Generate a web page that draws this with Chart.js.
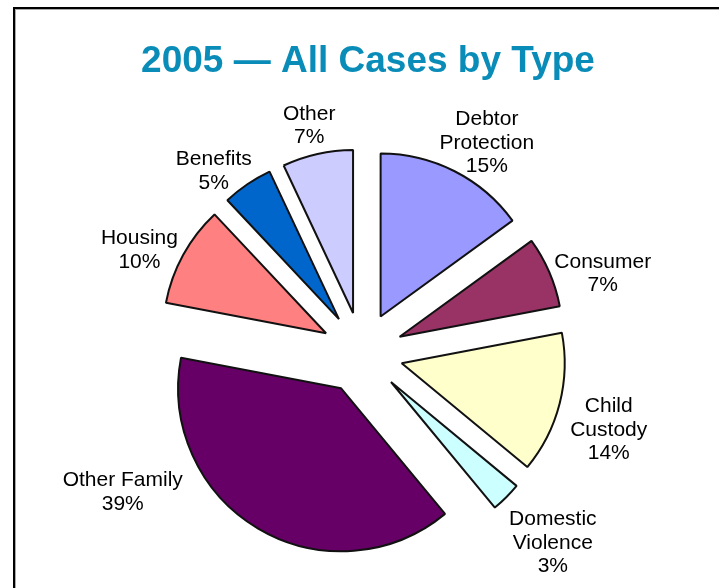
<!DOCTYPE html>
<html>
<head>
<meta charset="utf-8">
<title>2005 — All Cases by Type</title>
<script src="https://cdn.jsdelivr.net/npm/chart.js"></script>
<style>
    html, body { margin: 0; padding: 0; background: #fff; }
    .wrap { position: relative; width: 719px; height: 588px; overflow: hidden; }
    /* thin frame round the slide, only top and left edges are visible */
    .frame {
        position: absolute; left: 13px; top: 7px; right: -20px; bottom: -20px;
        border-top: 2px solid #000; border-left: 2px solid #000;
        box-shadow: inset 1px 1px 0 #aaa;
    }
    canvas { position: absolute; left: 0; top: 0; }
</style>
</head>
<body>
<div class="wrap">
    <div class="frame"></div>
    <canvas id="casesChart" width="719" height="588"></canvas>
</div>
<script>
/* ============================================
   DATA
   ============================================ */
const categories = [
    ['Debtor', 'Protection'],
    ['Consumer'],
    ['Child', 'Custody'],
    ['Domestic', 'Violence'],
    ['Other Family'],
    ['Housing'],
    ['Benefits'],
    ['Other']
];
const shares = [15, 7, 14, 3, 39, 10, 5, 7];

const sliceColors = ['#9999ff', '#993366', '#ffffcc', '#ccffff', '#660066', '#ff8080', '#0066cc', '#ccccff'];

// label placement: turn (deg) off the slice middle, and reach from pie centre
const labelTurn = [3.5, 4.8, 2.6, -0.4, 29.5, -3.6, -4.7, -0.4];
const labelReach = [246, 254, 258, 268, 276, 246, 236, 235];

const EXPLODE = 41;
const FONT = "'Liberation Sans', Arial, sans-serif";

/* ============================================
   PLUGINS
   ============================================ */

// Push every slice out from the centre by the same distance
const explodePlugin = {
    id: 'explode',
    afterDatasetsUpdate(chart) {
        chart.getDatasetMeta(0).data.forEach(arc => {
            const mid = (arc.startAngle + arc.endAngle) / 2;
            arc.x += Math.cos(mid) * EXPLODE;
            arc.y += Math.sin(mid) * EXPLODE;
        });
    }
};

// Title and the outside labels
const labelPlugin = {
    id: 'outsideLabels',
    afterDraw(chart) {
        const ctx = chart.ctx;
        const area = chart.chartArea;
        const cx = (area.left + area.right) / 2;
        const cy = (area.top + area.bottom) / 2;

        ctx.save();
        ctx.fillStyle = '#0a8cb8';
        ctx.font = 'bold 37px ' + FONT;
        ctx.textAlign = 'center';
        ctx.textBaseline = 'alphabetic';
        ctx.fillText('2005 — All Cases by Type', 368, 72);

        ctx.fillStyle = '#000';
        ctx.font = '21px ' + FONT;
        const lh = 23.5;
        chart.getDatasetMeta(0).data.forEach((arc, i) => {
            const ang = (arc.startAngle + arc.endAngle) / 2 + labelTurn[i] * Math.PI / 180;
            const x = cx + Math.cos(ang) * labelReach[i];
            const y = cy + Math.sin(ang) * labelReach[i];
            const lines = categories[i].concat([shares[i] + '%']);
            const first = y - (lines.length - 1) * lh / 2 + 7.5;
            lines.forEach((t, k) => ctx.fillText(t, x, first + k * lh));
        });
        ctx.restore();
    }
};

/* ============================================
   CHART
   ============================================ */
new Chart(document.getElementById('casesChart'), {
    type: 'pie',
    data: {
        labels: categories,
        datasets: [{
            data: shares,
            backgroundColor: sliceColors,
            borderColor: '#111',
            borderWidth: 2,
            radius: 163
        }]
    },
    options: {
        responsive: false,
        animation: false,
        events: [],
        layout: { padding: { left: 5, right: 0, top: 118, bottom: 0 } },
        plugins: {
            legend: { display: false },
            tooltip: { enabled: false },
            title: { display: false }
        }
    },
    plugins: [explodePlugin, labelPlugin]
});
</script>
</body>
</html>
